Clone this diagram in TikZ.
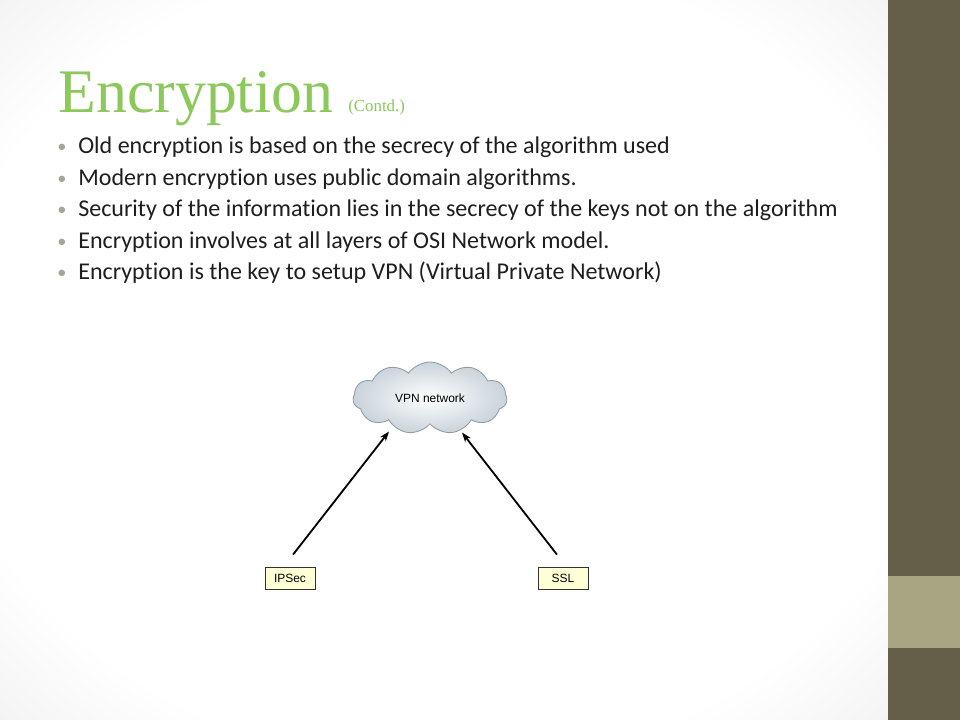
\documentclass[tikz,border=0pt]{standalone}
\usepackage{fontspec}
\setmainfont{Carlito}[Ligatures=NoCommon]
\newfontfamily\titlefont{Liberation Serif}
\newfontfamily\diagfont{Liberation Sans}
\usetikzlibrary{shapes.symbols,calc}
\definecolor{titlegreen}{HTML}{8CC85A}
\definecolor{bardark}{HTML}{655E48}
\definecolor{barlight}{HTML}{A8A682}
\definecolor{bulletgray}{HTML}{A3A894}
\definecolor{textdark}{HTML}{1E1E1E}
\definecolor{boxfill}{HTML}{FFFFD6}
\definecolor{cloudedge}{HTML}{8E9CA6}
\definecolor{cloudfill}{HTML}{C9D3DA}
\pgfdeclareradialshading{slidebg}{\pgfpoint{0bp}{0bp}}{color(0bp)=(white); color(28bp)=(white); color(50bp)=(black!13)}
\tikzset{
  bullet/.style={anchor=base west,text=textdark,font=\fontsize{17.1}{20}\selectfont,inner sep=0pt},
  dot/.style={anchor=base,text=bulletgray,font=\fontsize{13}{15}\selectfont,inner sep=0pt},
  tag/.style={draw=black!80,fill=boxfill,font=\diagfont\fontsize{8.5}{10}\selectfont,
    minimum width=1.25cm,minimum height=0.55cm,inner sep=0pt,line width=0.5pt},
  arr/.style={-{Stealth[length=7pt,width=5pt]},line width=1.3pt,black}
}
\usetikzlibrary{arrows.meta}
\begin{document}
\begin{tikzpicture}[x=0.025cm,y=-0.025cm]
  \useasboundingbox (0,0) rectangle (960,720);
  % slide background
  \shade[shading=slidebg] (0,0) rectangle (888,720);
  \fill[bardark] (888,0) rectangle (960,720);
  \fill[barlight] (888,576) rectangle (960,648);

  % title
  \node[anchor=base west,inner sep=0pt,text=titlegreen,font=\titlefont\fontsize{44}{48}\selectfont] (title) at (58,113) {Encryption};
  \node[anchor=base west,inner sep=0pt,text=titlegreen,font=\titlefont\fontsize{12}{14}\selectfont] (contd) at (348,112) {(Contd.)};

  % bullets
  \foreach \txt [count=\i] in {Old encryption is based on the secrecy of the algorithm used,
      Modern encryption uses public domain algorithms.,
      Security of the information lies in the secrecy of the keys not on the algorithm,
      Encryption involves at all layers of OSI Network model.,
      Encryption is the key to setup VPN (Virtual Private Network)}{
    \node[dot] (dot\i) at (62,{153+31.5*(\i-1)}) {•};
    \node[bullet] (line\i) at (78,{154+31.5*(\i-1)}) {\txt};
  }

  % diagram
  \node[cloud,cloud puffs=11,cloud puff arc=110,aspect=2.1,draw=cloudedge,line width=0.6pt,
    inner color=white,outer color=cloudfill,minimum width=3.85cm,minimum height=1.8cm,
    font=\diagfont\fontsize{8.5}{10}\selectfont] (vpn) at (430,398) {VPN network};
  \node[tag] (ipsec) at (290,578) {IPSec};
  \node[tag] (ssl) at (563,578) {SSL};
  \coordinate (ipsecOut) at ($(ipsec.north)+(3,-12)$);
  \coordinate (sslOut) at ($(ssl.north)+(-6,-12)$);
  \coordinate (vpnInL) at ($(vpn.south)+(-41,7)$);
  \coordinate (vpnInR) at ($(vpn.south)+(32,8)$);
  \draw[arr] (ipsecOut) -- (vpnInL);
  \draw[arr] (sslOut) -- (vpnInR);
\end{tikzpicture}
\end{document}
